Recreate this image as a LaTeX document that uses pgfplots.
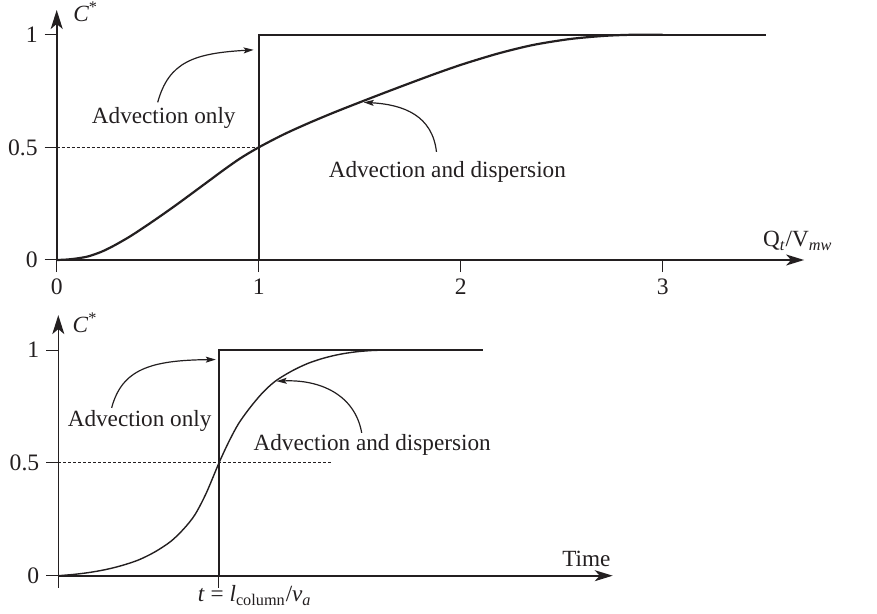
\documentclass[border=0pt]{standalone}
\usepackage{fontspec}
\setmainfont{Liberation Serif}
\usepackage{pgfplots}
\pgfplotsset{compat=1.18}
\usetikzlibrary{arrows.meta}

\definecolor{ink}{RGB}{35,31,32}
\newcommand\lab{\fontsize{11.6}{14}\selectfont}

% Breakthrough curves: C* against pore volumes and against time
\pgfplotstableread{
x y
0     0
0.05  0.002
0.1   0.007
0.156 0.016
0.22  0.036
0.28  0.062
0.36  0.103
0.437 0.148
0.52  0.199
0.594 0.246
0.67  0.296
0.75  0.349
0.83  0.402
0.91  0.452
1.0   0.5
1.12  0.556
1.24  0.605
1.37  0.654
1.5   0.70
1.63  0.745
1.76  0.789
1.89  0.832
2.02  0.872
2.19  0.918
2.36  0.955
2.54  0.981
2.71  0.995
2.85  1.0
3.0   1.0
}\dispersiontop

\pgfplotstableread{
x y
0    0
0.1  0.006
0.2  0.015
0.3  0.028
0.4  0.046
0.5  0.07
0.6  0.105
0.7  0.152
0.78 0.207
0.85 0.27
0.92 0.365
1.0  0.5
1.06 0.592
1.12 0.672
1.19 0.742
1.27 0.81
1.35 0.862
1.45 0.906
1.55 0.94
1.65 0.964
1.75 0.981
1.85 0.992
1.95 0.998
2.05 1.0
2.15 1.0
}\dispersionbottom

\pgfplotsset{
  breakthrough/.style={
    scale only axis,
    anchor=south west,
    axis lines=left,
    axis line style={ink, line width=0.8pt},
    x axis line style={-{Stealth[length=9pt,width=5.5pt,inset=2.5pt]}},
    y axis line style={-{Stealth[length=9.5pt,width=6pt,inset=2.5pt]}},
    tick align=outside,
    major tick length=6pt,
    major tick style={ink, line width=0.5pt},
    xmin=0, ymin=0,
    ytick={0,0.5,1},
    yticklabels={0,0.5,1},
    clip=false,
    ticklabel style={font=\fontsize{11.8}{13}\selectfont, text=ink},
    /pgf/number format/assume math mode=true,
  },
}
\tikzset{
  note/.style={ink, line width=0.6pt, -{Stealth[length=5pt,width=3pt,inset=1pt]}},
}

\begin{document}
\begin{tikzpicture}
\useasboundingbox (0,0) rectangle (438.5pt,-307pt);

% Upper panel: relative concentration versus Q_t/V_mw
\begin{axis}[breakthrough,
  at={(28.35pt,-130pt)},
  width=373.7pt, height=125pt,
  xmax=3.70, ymax=1.11,
  xtick={0,1,2,3},
  xticklabels={0,1,2,3},
]
\addplot[ink, line width=0.4pt, dash pattern=on 1.5pt off 1pt] coordinates {(0,0.5) (1,0.5)};
\addplot[ink, line width=1.1pt] coordinates {(1,0) (1,1) (3.51,1)};
\addplot[ink, line width=1.1pt, smooth] table[x=x, y=y] {\dispersiontop};

\node[anchor=base west, inner sep=0, text=ink] at (axis cs:0.08,1.059) {\lab\textit{C}\textsuperscript{*}};
\node[anchor=base west, inner sep=0, text=ink] at (axis cs:3.495,0.059)
  {\lab Q\textsubscript{\textit{t}}/V\textsubscript{\textit{mw}}};

\node[text=ink, inner sep=0] at (axis cs:0.53,0.63) {\lab Advection only};
\draw[note] (axis cs:0.5,0.70) .. controls (axis cs:0.555,0.88) and (axis cs:0.68,0.918) .. (axis cs:0.975,0.933);

\node[anchor=west, text=ink, inner sep=0] at (axis cs:1.345,0.39) {\lab Advection and dispersion};
\draw[note] (axis cs:1.88,0.48) .. controls (axis cs:1.86,0.64) and (axis cs:1.72,0.69) .. (axis cs:1.52,0.70);
\end{axis}

% Lower panel: relative concentration versus time
\begin{axis}[breakthrough,
  at={(29.15pt,-287.85pt)},
  width=277.2pt, height=130.3pt,
  xmax=3.45, ymax=1.155,
  xtick={0,1},
  xticklabels={,},
]
\addplot[ink, line width=0.4pt, dash pattern=on 1.5pt off 1pt] coordinates {(0,0.5) (1.71,0.5)};
\addplot[ink, line width=1.1pt] coordinates {(1,0) (1,1) (2.64,1)};
\addplot[ink, line width=0.7pt, smooth] table[x=x, y=y] {\dispersionbottom};

\node[anchor=base west, inner sep=0, text=ink] at (axis cs:0.087,1.078) {\lab\textit{C}\textsuperscript{*}};
\node[anchor=base west, inner sep=0, text=ink] at (axis cs:3.134,0.04) {\lab Time};
\node[anchor=base west, inner sep=0, text=ink, xshift=-10.7pt, yshift=-13pt] at (axis cs:1,0)
  {\lab\textit{t} = \textit{l}\textsubscript{column}/\textit{ν}\textsubscript{\textit{a}}};

\node[text=ink, inner sep=0] at (axis cs:0.506,0.684) {\lab Advection only};
\draw[note] (axis cs:0.332,0.744) .. controls (axis cs:0.396,0.914) and (axis cs:0.571,0.955) .. (axis cs:0.98,0.958);

\node[anchor=west, text=ink, inner sep=0] at (axis cs:1.213,0.58) {\lab Advection and dispersion};
\draw[note] (axis cs:1.888,0.633) .. controls (axis cs:1.846,0.803) and (axis cs:1.627,0.87) .. (axis cs:1.359,0.862);
\end{axis}
\end{tikzpicture}
\end{document}
